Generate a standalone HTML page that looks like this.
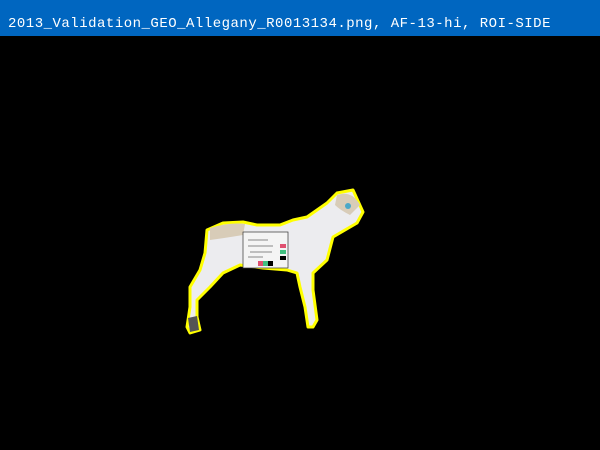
<!DOCTYPE html>
<html><head><meta charset="utf-8"><style>
html,body{margin:0;padding:0;background:#000;width:600px;height:450px;overflow:hidden}
#bar{position:absolute;left:0;top:0;width:600px;height:36px;background:#0066c0}
#title{position:absolute;left:8px;top:16px;font:14px "Liberation Mono","DejaVu Sans Mono",monospace;color:#fff;white-space:nowrap;letter-spacing:0.5px}
svg{position:absolute;left:0;top:0}
</style></head><body>
<div id="bar"><div id="title">2013_Validation_GEO_Allegany_R0013134.png, AF-13-hi, ROI-SIDE</div></div>
<svg width="600" height="450">
<polygon fill="#ececef" stroke="#ffff00" stroke-width="3" stroke-linejoin="round"
points="337,193 353,190 363,212 357,223 333,237 327,260 313,273 313,290 317,320 313,327 308,327 305,307 300,287 297,273 287,270 263,268 240,265 223,273 210,287 197,300 197,317 200,330 190,333 187,327 190,307 190,287 200,270 205,253 207,230 223,223 243,222 257,225 280,225 293,220 307,217 327,203"/>
<path d="M210,228 Q230,222 245,224 L243,235 Q225,238 210,240 Z" fill="#d8ccb8"/>
<path d="M337,195 Q352,190 360,205 L350,215 Q340,210 335,205 Z" fill="#d8ccb8"/>
<circle cx="348" cy="206" r="3" fill="#4aa8c8"/>
<path d="M188,318 L197,316 L199,330 L190,332 Z" fill="#555"/>
<rect x="243" y="232" width="45" height="36" fill="#f4f4f4" stroke="#333" stroke-width="0.7"/>
<rect x="280" y="244" width="6" height="4" fill="#e05070"/>
<rect x="280" y="250" width="6" height="4" fill="#40c080"/>
<rect x="280" y="256" width="6" height="4" fill="#000"/>
<rect x="258" y="261" width="5" height="5" fill="#e05070"/>
<rect x="263" y="261" width="5" height="5" fill="#40c080"/>
<rect x="268" y="261" width="5" height="5" fill="#000"/>
<path d="M248,240 h20 M248,246 h25 M250,252 h22 M248,257 h15" stroke="#666" stroke-width="0.8"/>
</svg>
</body></html>
